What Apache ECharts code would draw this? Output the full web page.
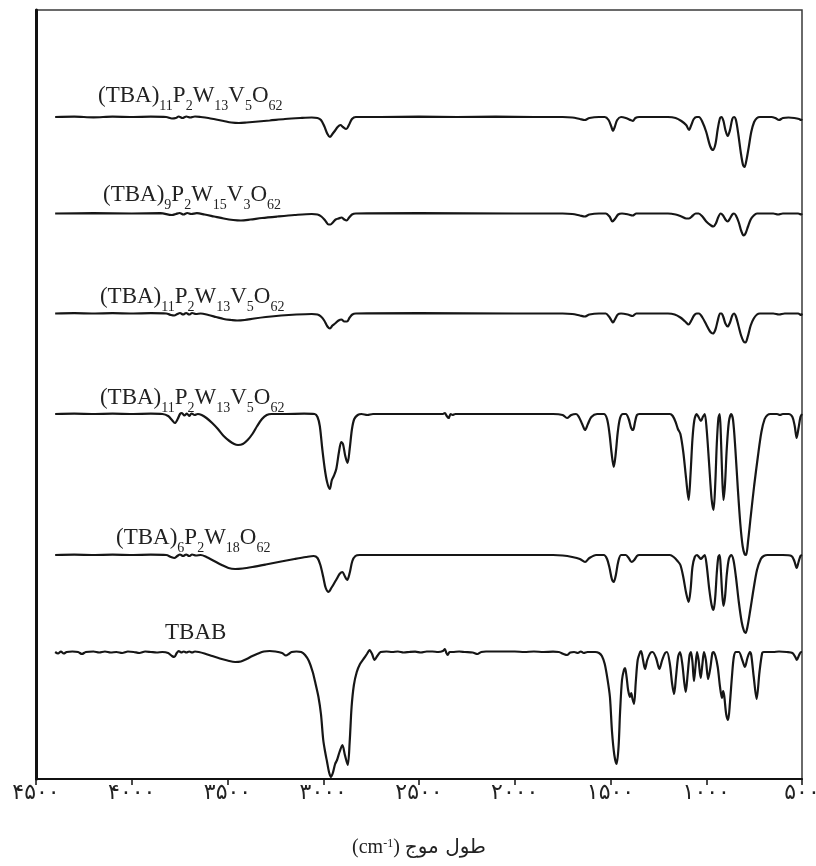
<!DOCTYPE html>
<html>
<head>
<meta charset="utf-8">
<script src="https://cdn.jsdelivr.net/npm/echarts@6/dist/echarts.min.js"></script>
<style>
  html, body { margin: 0; padding: 0; background: #fff; }
  #chart { width: 816px; height: 866px; }
</style>
</head>
<body>
<div id="chart"></div>
<script>
// FT-IR spectra, wavenumber (cm-1) vs. relative transmittance.
// Each spectrum: [wavenumber, change from its own baseline].

const tickValues = [500, 1000, 1500, 2000, 2500, 3000, 3500, 4000, 4500];
const tickLabels = ['۵۰۰', '۱۰۰۰', '۱۵۰۰', '۲۰۰۰', '۲۵۰۰', '۳۰۰۰', '۳۵۰۰', '۴۰۰۰', '۴۵۰۰'];

// sample names, "_n" marks a subscript
const sampleNames = [
  '(TBA)_11P_2W_13V_5O_62',
  '(TBA)_9P_2W_15V_3O_62',
  '(TBA)_11P_2W_13V_5O_62',
  '(TBA)_11P_2W_13V_5O_62',
  '(TBA)_6P_2W_18O_62',
  'TBAB'
];

// vertical stacking offset of each trace
const baselines = [662, 565.5, 465.5, 365, 224, 127];

// where each sample name sits: [wavenumber of its left edge, height above its trace]
const nameAnchorWn = [4176, 4150, 4166, 4166, 4082, 3826];
const nameRise = [20, 17.5, 15.5, 15, 16, 18];

const spec1 = [[4400,0],[4300,0.3],[4200,-0.3],[4100,0.3],[4000,0],[3900,0.3],[3820,0],[3790,-1.5],[3770,-1],[3755,0.5],[3735,-1],[3715,0.5],[3695,-0.5],[3670,0.5],[3640,0],[3600,-1],[3560,-2.5],[3520,-4],[3480,-5.5],[3440,-6],[3400,-5.5],[3340,-4.5],[3280,-3.5],[3200,-2],[3120,-1],[3060,-0.5],[3030,-1],[3012,-3],[2995,-9],[2978,-17],[2965,-20],[2952,-17],[2940,-14],[2925,-10],[2910,-8],[2897,-10],[2880,-12],[2866,-8],[2850,-2],[2830,0],[2700,0],[2500,0.3],[2300,0],[2100,0.3],[1900,0],[1750,0],[1700,-0.5],[1660,-2],[1635,-3],[1610,-1],[1560,0],[1530,0],[1510,-3],[1495,-10],[1487,-14],[1478,-10],[1465,-3],[1445,0],[1420,-1],[1395,-3],[1383,-4],[1370,-1],[1350,0],[1200,0],[1160,-1],[1130,-4],[1105,-8],[1090,-13],[1078,-8],[1065,-2],[1050,0],[1038,0],[1020,-5],[1000,-15],[980,-29],[965,-33],[952,-27],[940,-12],[928,-1],[920,0],[910,-4],[900,-13],[888,-19],[876,-13],[864,-2],[855,0],[845,-3],[832,-18],[820,-35],[808,-48],[800,-50],[790,-43],[778,-30],[765,-15],[750,-5],[735,-1],[720,0],[660,0],[640,-1],[620,-3],[600,-1],[570,-0.5],[540,-1],[515,-2],[505,-3],[500,-2]];

const spec2 = [[4400,0],[4200,0.3],[4000,0],[3850,0.3],[3790,-1.5],[3770,-0.5],[3750,0.5],[3730,-1],[3710,0.5],[3690,-0.5],[3660,0.3],[3620,-1],[3570,-3],[3520,-5],[3470,-6.5],[3430,-7],[3380,-6],[3320,-4.5],[3240,-3],[3150,-1.5],[3060,-0.5],[3030,-1],[3010,-3],[2990,-7],[2972,-11],[2962,-11],[2950,-9],[2935,-6],[2920,-5],[2905,-4],[2890,-6],[2878,-7],[2865,-4],[2850,-1],[2830,0],[2500,0.3],[2000,0],[1750,0],[1700,-0.5],[1660,-2],[1635,-3],[1610,-1],[1560,0],[1525,0],[1505,-3],[1490,-8],[1475,-5],[1460,-1],[1440,0],[1405,-1],[1385,-2],[1365,0],[1200,0],[1160,-1],[1130,-3],[1105,-5],[1090,-5],[1070,-2],[1055,0],[1040,0],[1020,-3],[1000,-8],[975,-12],[963,-13],[950,-10],[938,-4],[925,0],[912,-2],[900,-6],[888,-8],[876,-5],[864,-1],[855,0],[845,-2],[830,-9],[818,-17],[805,-22],[795,-20],[782,-13],[768,-6],[752,-2],[735,0],[650,0],[625,-1],[600,0],[520,0],[505,-1],[500,0]];

const spec3 = [[4400,0],[4300,0.3],[4200,0],[4100,0.3],[4000,0],[3900,0.3],[3820,0],[3795,-1.5],[3778,-2],[3762,-0.5],[3748,0.5],[3732,-1],[3716,0.5],[3700,-1],[3685,0.5],[3665,-0.5],[3640,0],[3600,-1.5],[3560,-3.5],[3520,-5.5],[3480,-6.5],[3450,-7],[3410,-6.5],[3360,-5],[3300,-3.5],[3220,-2],[3140,-1],[3060,-0.5],[3030,-1],[3012,-3],[2995,-7],[2978,-13],[2965,-15],[2952,-12],[2938,-10],[2920,-7],[2905,-6],[2890,-8],[2876,-8],[2862,-4],[2848,-1],[2830,0],[2500,0.3],[2000,0],[1750,0],[1700,-0.5],[1660,-2],[1635,-3],[1610,-1],[1560,0],[1525,0],[1508,-3],[1495,-7],[1487,-9],[1477,-6],[1462,-1],[1445,0],[1410,-1],[1385,-2.5],[1365,0],[1200,0],[1165,-1],[1135,-4],[1110,-8],[1092,-11],[1078,-7],[1064,-2],[1050,0],[1038,0],[1020,-4],[1000,-11],[980,-18],[965,-20],[952,-16],[940,-7],[928,0],[920,0],[910,-4],[900,-10],[888,-13],[876,-9],[864,-2],[855,0],[845,-3],[832,-12],[818,-22],[805,-28],[795,-29],[783,-23],[768,-12],[752,-5],[735,-1],[720,0],[650,0],[620,-1],[590,0],[520,0],[505,-1.5],[500,0]];

const spec4 = [[4400,0],[4300,0.3],[4200,0],[4100,0.3],[4000,0],[3900,0.3],[3840,0],[3810,-2],[3790,-6],[3775,-9],[3760,-5],[3748,0],[3738,1],[3725,-1.5],[3712,0.5],[3700,-2],[3688,0.5],[3672,-1],[3655,0],[3635,-1],[3610,-4],[3580,-9],[3550,-15],[3520,-22],[3490,-27],[3465,-30],[3445,-31],[3420,-30],[3395,-26],[3370,-20],[3345,-12],[3320,-5],[3295,-1],[3270,0],[3200,0],[3100,0.3],[3045,0],[3030,-3],[3018,-12],[3005,-35],[2992,-55],[2980,-68],[2966,-75],[2955,-66],[2945,-62],[2932,-55],[2918,-38],[2906,-28],[2897,-30],[2885,-42],[2873,-49],[2862,-35],[2850,-15],[2838,-5],[2820,-1],[2800,0],[2770,-1],[2740,0],[2600,0],[2375,0],[2365,1],[2355,-2],[2345,-4],[2335,0],[2325,-1],[2310,0],[2000,0],[1800,0],[1750,-1],[1727,-4],[1705,-1],[1680,0],[1665,-3],[1648,-10],[1633,-16],[1618,-10],[1600,-3],[1570,0],[1535,0],[1518,-5],[1505,-20],[1495,-38],[1483,-53],[1473,-40],[1462,-18],[1450,-4],[1435,0],[1420,0],[1405,-5],[1392,-14],[1382,-16],[1372,-8],[1362,-1],[1350,0],[1190,0],[1175,-2],[1160,-8],[1148,-15],[1135,-20],[1120,-38],[1105,-65],[1092,-86],[1082,-60],[1072,-25],[1062,-6],[1050,0],[1040,-3],[1028,-7],[1018,-3],[1008,0],[998,-15],[985,-50],[972,-85],[962,-96],[953,-70],[945,-30],[937,-5],[930,0],[924,-20],[918,-55],[910,-86],[902,-70],[893,-35],[882,-8],[870,0],[860,-6],[848,-35],[835,-75],[822,-110],[810,-132],[800,-140],[792,-141],[782,-128],[768,-103],[750,-72],[730,-42],[712,-18],[695,-5],[680,-1],[665,0],[630,0],[615,-1],[600,0],[570,0],[550,-3],[538,-12],[528,-24],[518,-14],[508,-3],[500,0]];

const spec5 = [[4400,0],[4300,0.3],[4200,0],[4100,0.3],[4000,0],[3900,0.3],[3820,0],[3795,-2],[3778,-3],[3762,-1],[3748,0.5],[3732,-1],[3716,0.5],[3700,-1],[3685,0.5],[3665,-0.5],[3640,0],[3610,-2],[3570,-6],[3530,-10],[3495,-13],[3460,-14],[3420,-13.5],[3370,-12],[3300,-9.5],[3220,-6.5],[3150,-4],[3090,-2],[3050,-1],[3030,-3],[3015,-10],[3000,-22],[2987,-33],[2972,-37],[2958,-33],[2945,-29],[2930,-24],[2915,-19],[2900,-17],[2888,-21],[2875,-25],[2862,-18],[2848,-6],[2832,-1],[2810,0],[2600,0],[2300,0],[2000,0],[1800,0],[1750,-0.5],[1700,-2],[1660,-4],[1633,-7],[1610,-3],[1575,0],[1535,0],[1518,-4],[1505,-13],[1493,-24],[1483,-27],[1472,-20],[1460,-7],[1445,0],[1420,0],[1405,-3],[1390,-7],[1376,-5],[1362,-1],[1350,0],[1190,0],[1170,-2],[1150,-6],[1135,-10],[1120,-22],[1105,-38],[1092,-47],[1082,-35],[1072,-12],[1060,-2],[1048,0],[1038,-2],[1028,-4],[1018,-2],[1008,0],[998,-10],[985,-33],[972,-50],[962,-55],[953,-42],[945,-18],[937,-2],[930,0],[924,-14],[917,-38],[910,-51],[902,-42],[893,-20],[882,-4],[870,0],[858,-5],[845,-22],[830,-47],[815,-67],[803,-76],[795,-78],[785,-72],[770,-55],[752,-33],[735,-15],[715,-4],[700,-1],[680,0],[630,0],[600,0],[555,-1],[540,-6],[528,-13],[518,-7],[508,-1],[500,0]];

const spec6 = [[4400,0],[4385,-1.5],[4370,0.5],[4355,-1.5],[4340,0],[4310,0.5],[4280,0],[4260,-2],[4240,0],[4200,0.5],[4170,-0.5],[4140,0.5],[4110,-0.5],[4080,0],[4050,-1],[4020,0.5],[3990,0],[3960,-1],[3930,0.5],[3900,0],[3870,-0.5],[3840,0],[3810,-1],[3790,-4],[3778,-5],[3765,-1],[3755,1],[3742,-0.5],[3728,0.5],[3715,-0.5],[3700,0.5],[3685,-0.5],[3670,0.5],[3650,0],[3620,-1.5],[3580,-4],[3540,-6.5],[3500,-8.5],[3460,-10],[3430,-9.5],[3400,-7],[3370,-4],[3340,-1.5],[3310,0.5],[3280,1],[3250,0.5],[3215,-1],[3195,-3.5],[3180,-2],[3165,0],[3140,0.5],[3115,0],[3095,-3],[3075,-9],[3055,-20],[3040,-32],[3025,-45],[3012,-62],[3000,-88],[2990,-100],[2980,-110],[2970,-120],[2960,-125],[2950,-121],[2938,-112],[2928,-108],[2915,-100],[2900,-93],[2887,-103],[2872,-113],[2862,-90],[2852,-55],[2840,-33],[2825,-20],[2808,-12],[2790,-7],[2772,-2],[2758,2],[2745,-2],[2732,-8],[2718,-4],[2700,0],[2670,0.5],[2640,0],[2610,0.5],[2580,-0.5],[2550,0],[2520,0.3],[2490,-0.5],[2460,0.5],[2430,0.5],[2400,0],[2375,1],[2365,3],[2357,-1],[2350,-3],[2340,0],[2325,0],[2290,0.5],[2260,0],[2220,-0.5],[2195,-2],[2175,0],[2150,0.5],[2100,0.5],[2000,0.5],[1950,0],[1900,0.5],[1850,0],[1800,0.3],[1770,0],[1745,-2],[1727,-3],[1710,-0.5],[1690,0],[1670,-1],[1655,0.5],[1640,-1],[1620,0],[1580,0],[1560,-1],[1545,-4],[1530,-12],[1515,-28],[1503,-45],[1492,-80],[1480,-103],[1468,-112],[1458,-95],[1450,-60],[1440,-28],[1430,-18],[1424,-16],[1416,-25],[1408,-38],[1398,-45],[1392,-41],[1385,-47],[1377,-52],[1368,-30],[1358,-8],[1345,0],[1340,1],[1330,-8],[1320,-17],[1308,-8],[1292,-1],[1280,0],[1262,-6],[1245,-17],[1230,-8],[1215,-1],[1205,0],[1190,-12],[1178,-32],[1168,-42],[1158,-25],[1147,-5],[1137,0],[1125,-12],[1115,-30],[1107,-40],[1097,-22],[1087,-3],[1080,0],[1072,-10],[1064,-29],[1056,-14],[1048,0],[1040,-8],[1029,-26],[1020,-12],[1012,0],[1002,-8],[990,-27],[978,-15],[968,-1],[962,0],[952,-4],[940,-15],[928,-35],[918,-46],[912,-39],[906,-44],[896,-62],[886,-68],[876,-50],[866,-25],[856,-5],[845,0],[830,0],[812,-8],[798,-15],[785,-6],[772,0],[765,-3],[752,-25],[737,-47],[722,-20],[708,-1],[700,0],[650,0],[620,0.5],[580,0],[550,-1],[535,-5],[527,-8],[515,-3],[505,0],[500,0]];

const spectra = [spec1, spec2, spec3, spec4, spec5, spec6];

// turn "(TBA)_11P_2..." into rich text with subscripts
function formulaRich(name) {
  const parts = name.split(/_(\d+)/);
  return parts.map((p, i) => p === '' ? '' : (i % 2 ? '{s|' + p + '}' : '{m|' + p + '}')).join('');
}

const nameRich = {
  m: { fontFamily: 'Liberation Serif', fontSize: 23, color: '#222', lineHeight: 26, verticalAlign: 'top' },
  s: { fontFamily: 'Liberation Serif', fontSize: 14, color: '#222', lineHeight: 14, padding: [15, 0, 0, 0], verticalAlign: 'top' }
};

const series = spectra.map((sp, i) => ({
  type: 'line',
  data: sp.map(p => [p[0], p[1] + baselines[i]]),
  showSymbol: false,
  smooth: 0.3,
  lineStyle: { color: '#161616', width: 2.2 },
  animation: false,
  silent: true,
  markPoint: {
    symbol: 'circle',
    symbolSize: 0,
    silent: true,
    animation: false,
    data: [{
      coord: [nameAnchorWn[i], baselines[i] + nameRise[i]],
      label: {
        show: true,
        position: 'right',
        distance: 0,
        formatter: formulaRich(sampleNames[i]),
        rich: nameRich
      }
    }]
  }
}));

const chart = echarts.init(document.getElementById('chart'), null, { renderer: 'canvas' });
chart.setOption({
  backgroundColor: '#fff',
  animation: false,
  grid: {
    left: 36, right: 14, top: 10, bottom: 87,
    outerBoundsMode: 'none',
    containLabel: false,
    show: true, borderColor: '#3a3a3a', borderWidth: 1.5
  },
  xAxis: {
    type: 'value',
    min: 500, max: 4500, interval: 500,
    inverse: true,
    axisLine: { show: true, onZero: false, lineStyle: { color: '#111', width: 2 } },
    axisTick: { show: true, inside: false, length: 6, lineStyle: { color: '#111', width: 1.5 } },
    splitLine: { show: false },
    axisLabel: {
      margin: 3,
      fontFamily: 'DejaVu Sans',
      fontSize: 22,
      color: '#222',
      hideOverlap: false,
      formatter: v => tickLabels[tickValues.indexOf(v)] ?? ''
    },
    name: '{a|(cm}{sup|-1}{a|) }{fa|طول موج}',
    nameLocation: 'middle',
    nameGap: 59,
    nameTextStyle: {
      rich: {
        a: { fontFamily: 'Liberation Serif', fontSize: 20, color: '#222', lineHeight: 26, verticalAlign: 'top' },
        sup: { fontFamily: 'Liberation Serif', fontSize: 12, color: '#222', lineHeight: 14, verticalAlign: 'top' },
        fa: { fontFamily: 'DejaVu Sans', fontSize: 20, color: '#222', lineHeight: 26, verticalAlign: 'top' }
      }
    }
  },
  yAxis: {
    type: 'value',
    min: 0, max: 769,
    axisLine: { show: true, lineStyle: { color: '#111', width: 3 } },
    axisTick: { show: false },
    axisLabel: { show: false },
    splitLine: { show: false }
  },
  series: series
});
</script>
</body>
</html>
